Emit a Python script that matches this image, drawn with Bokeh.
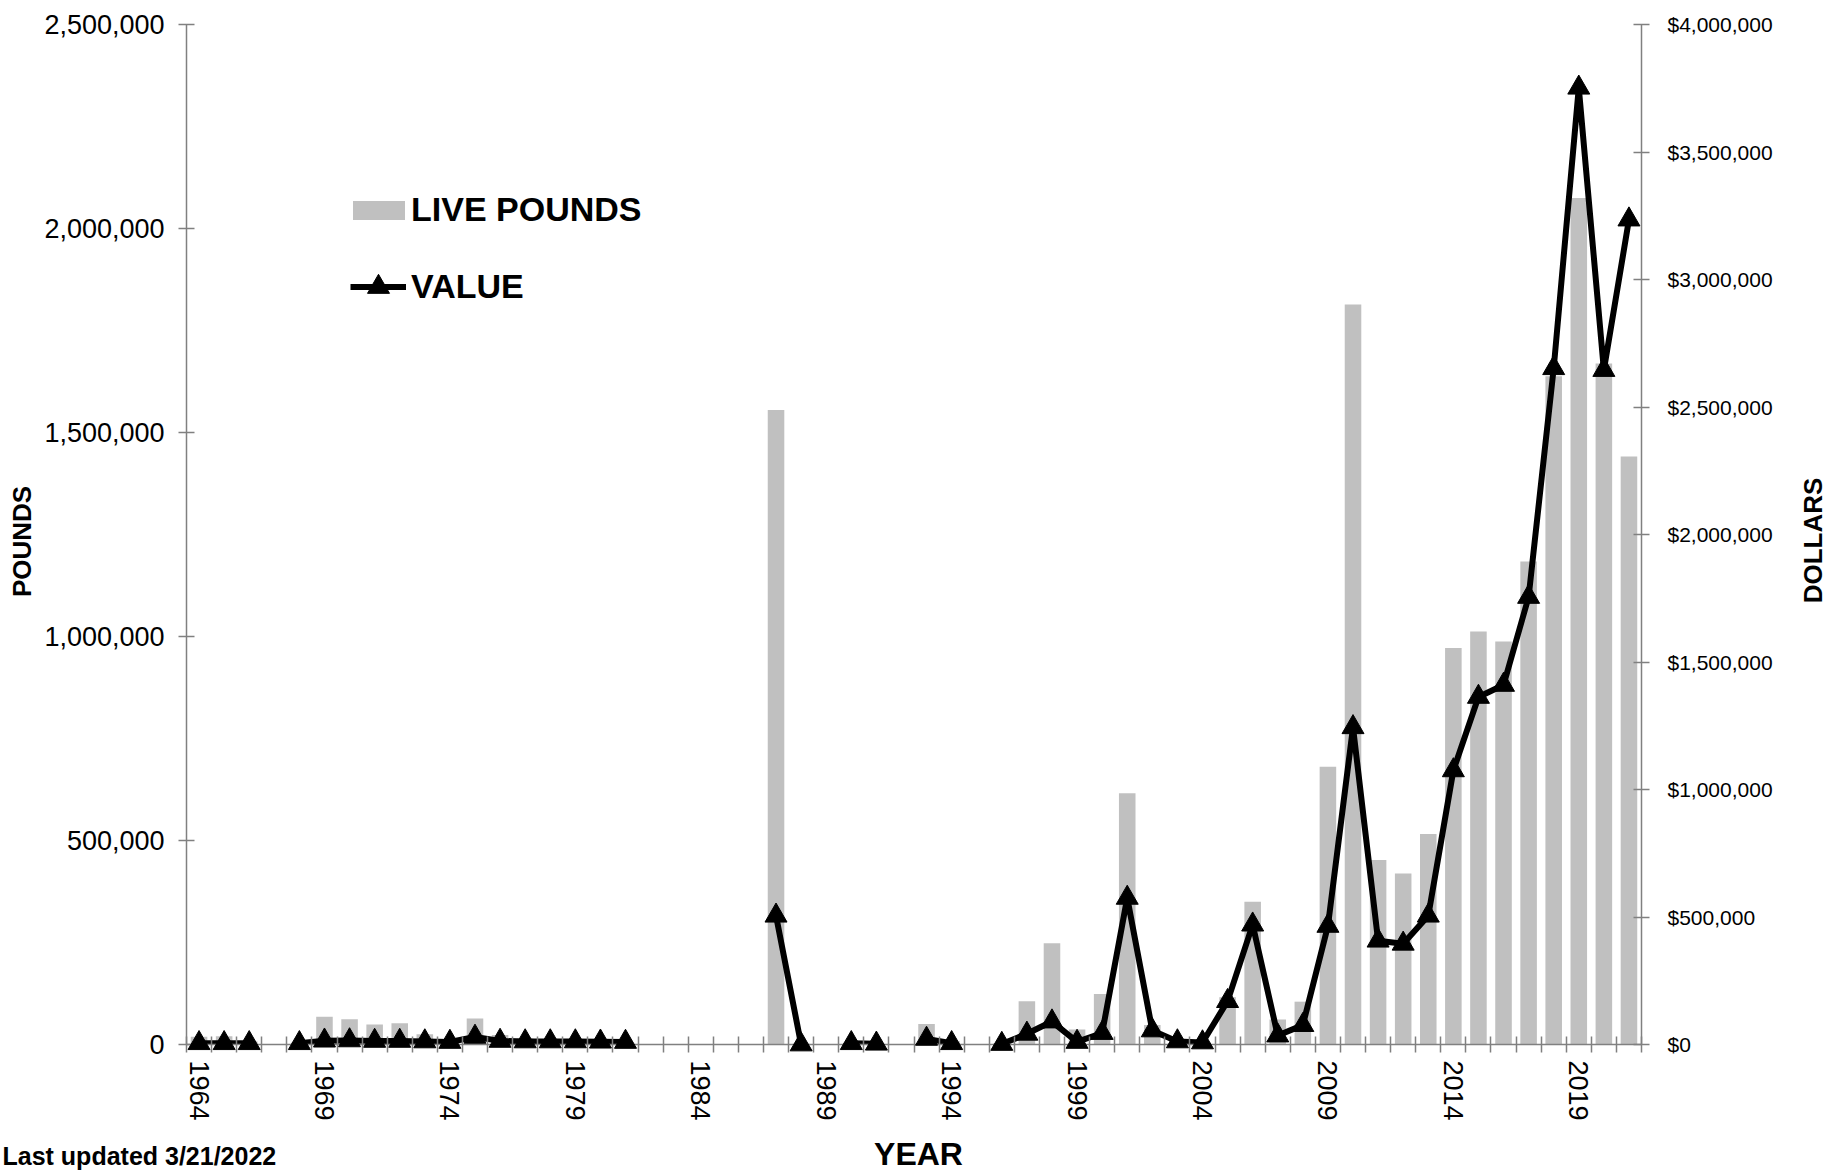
import math
from bokeh.plotting import figure
from bokeh.models import (Range1d, LinearAxis, FixedTicker, NumeralTickFormatter,
                          Legend, LegendItem, ColumnDataSource)
from bokeh.core.properties import value
from bokeh.embed import file_html
from bokeh.resources import INLINE

nan = float("nan")

years = list(range(1964, 2022))

live_pounds = [
    19000, 20000, 8000, nan, 5000, 68000, 62000, 49000, 52000, 25000,   # 1964-1973
    12000, 64000, 23000, 15000, 10000, 8000, 6000, 5000, nan, nan,      # 1974-1983
    nan, nan, nan, 1555000, 2000, nan, 4000, 2000, nan, 50000,          # 1984-1993
    8000, nan, 3000, 106000, 248000, 37000, 124000, 616000, 48000, 8000, # 1994-2003
    5000, 116000, 350000, 61000, 105000, 681000, 1814000, 452000, 419000, 516000,  # 2004-2013
    972000, 1012000, 988000, 1184000, 1638000, 2075000, 1669000, 1441000,          # 2014-2021
]

value_dollars = [
    5000, 5000, 5000, nan, 5000, 15000, 16000, 14000, 14000, 12000,     # 1964-1973
    10000, 30000, 14000, 12000, 12000, 12000, 11000, 10000, nan, nan,   # 1974-1983
    nan, nan, nan, 505000, 0, nan, 5000, 3000, nan, 22000,              # 1984-1993
    5000, nan, 2000, 42000, 90000, 10000, 45000, 575000, 55000, 12000,  # 1994-2003
    8000, 170000, 470000, 35000, 76000, 465000, 1244000, 407000, 395000, 505000,   # 2004-2013
    1075000, 1363000, 1410000, 1755000, 2652000, 3752000, 2645000, 3235000,        # 2014-2021
]

label_years = list(range(1964, 2022, 5))
pound_ticks = [0, 500000, 1000000, 1500000, 2000000, 2500000]
dollar_ticks = [0, 500000, 1000000, 1500000, 2000000, 2500000, 3000000, 3500000, 4000000]

FONT = "Liberation Sans"
AXIS_GREY = "#808080"

# canvas / frame geometry (pixels)
W, H = 1826, 1171
FL, FT, FR, FB = 186, 24, 1641, 1044
X0, X1 = years[0] - 0.5, years[-1] + 0.5
Y0, Y1 = 0, 2500000

src = ColumnDataSource(dict(year=years, pounds=live_pounds, value=value_dollars))

p = figure(width=W, height=H, output_backend="svg", toolbar_location=None,
           title=None,
           x_range=Range1d(X0, X1), y_range=Range1d(Y0, Y1),
           min_border_left=FL, min_border_right=W - FR,
           min_border_top=FT, min_border_bottom=H - FB)
p.extra_y_ranges = {"dollars": Range1d(0, 4000000)}
p.outline_line_color = None
p.xgrid.visible = False
p.ygrid.visible = False
p.background_fill_color = "white"
p.border_fill_color = "white"

bars = p.vbar(x="year", top="pounds", width=0.66, source=src,
              fill_color="#C0C0C0", line_color=None)
line_r = p.line(x="year", y="value", source=src, y_range_name="dollars",
                line_color="black", line_width=6, line_join="round")
pts = p.scatter(x="year", y="value", source=src, y_range_name="dollars",
                marker="triangle", size=22, fill_color="black", line_color="black",
                line_width=1, level="overlay")

# x axis
xa = p.xaxis[0]
xa.ticker = FixedTicker(ticks=label_years,
                        minor_ticks=[y - 0.5 for y in years] + [years[-1] + 0.5])
xa.major_tick_in = 0
xa.major_tick_out = 0
xa.minor_tick_in = 8
xa.minor_tick_out = 8
xa.minor_tick_line_color = AXIS_GREY
xa.minor_tick_line_width = 1.5
xa.axis_line_color = AXIS_GREY
xa.axis_line_width = 1.5
xa.major_label_orientation = -math.pi / 2
xa.major_label_standoff = 8
xa.major_label_text_font = FONT
xa.major_label_text_font_size = "27px"
xa.major_label_text_color = "black"

# left axis
ya = p.yaxis[0]
ya.ticker = FixedTicker(ticks=pound_ticks)
ya.formatter = NumeralTickFormatter(format="0,0")
ya.major_tick_in = 8
ya.major_tick_out = 8
ya.minor_tick_in = 0
ya.minor_tick_out = 0
ya.major_tick_line_color = AXIS_GREY
ya.major_tick_line_width = 1.5
ya.axis_line_color = AXIS_GREY
ya.axis_line_width = 1.5
ya.major_label_standoff = 14
ya.major_label_text_font = FONT
ya.major_label_text_font_size = "27px"
ya.major_label_text_color = "black"

# right axis
ra = LinearAxis(y_range_name="dollars",
                ticker=FixedTicker(ticks=dollar_ticks),
                formatter=NumeralTickFormatter(format="$0,0"))
ra.major_tick_in = 8
ra.major_tick_out = 8
ra.minor_tick_in = 0
ra.minor_tick_out = 0
ra.major_tick_line_color = AXIS_GREY
ra.major_tick_line_width = 1.5
ra.axis_line_color = AXIS_GREY
ra.axis_line_width = 1.5
ra.major_label_standoff = 18
ra.major_label_text_font = FONT
ra.major_label_text_font_size = "21px"
ra.major_label_text_color = "black"
p.add_layout(ra, "right")

# legends (two, so each swatch gets its own size)
leg_common = dict(padding=0, spacing=0, label_text_font=FONT, label_text_font_size="34px",
                  label_text_font_style="bold", label_text_color="black",
                  border_line_color=None, background_fill_alpha=0)
leg1 = Legend(items=[LegendItem(label="LIVE POUNDS", renderers=[bars])],
              location=(160, 815), glyph_width=65, glyph_height=24, label_height=38,
              label_standoff=0, **leg_common)
leg2 = Legend(items=[LegendItem(label="VALUE", renderers=[line_r, pts])],
              location=(164, 730), glyph_width=56, glyph_height=55, label_height=38,
              label_standoff=5, **leg_common)
p.add_layout(leg1)
p.add_layout(leg2)

# titles drawn as text glyphs (overlay level, so they are not clipped to the frame)
def dx(sx):
    return X0 + (sx - FL) * (X1 - X0) / (FR - FL)

def dy(sy):
    return Y0 + (FB - sy) * (Y1 - Y0) / (FB - FT)

def add_text(txt, sx, sy, size, angle=0.0, align="center", baseline="middle"):
    p.text(x=[dx(sx)], y=[dy(sy)], text=[txt], angle=angle, level="overlay",
           text_align=value(align), text_baseline=value(baseline),
           text_font=value(FONT), text_font_size=value(size),
           text_font_style=value("bold"), text_color="black")

add_text("POUNDS", 21, 541, "26px", angle=math.pi / 2)
add_text("DOLLARS", 1812, 540, "26px", angle=math.pi / 2)
add_text("YEAR", 918, 1153, "32px")
add_text("Last updated 3/21/2022", 2, 1155, "25px", align="left")

open("out.html", "w").write(file_html(p, INLINE))
